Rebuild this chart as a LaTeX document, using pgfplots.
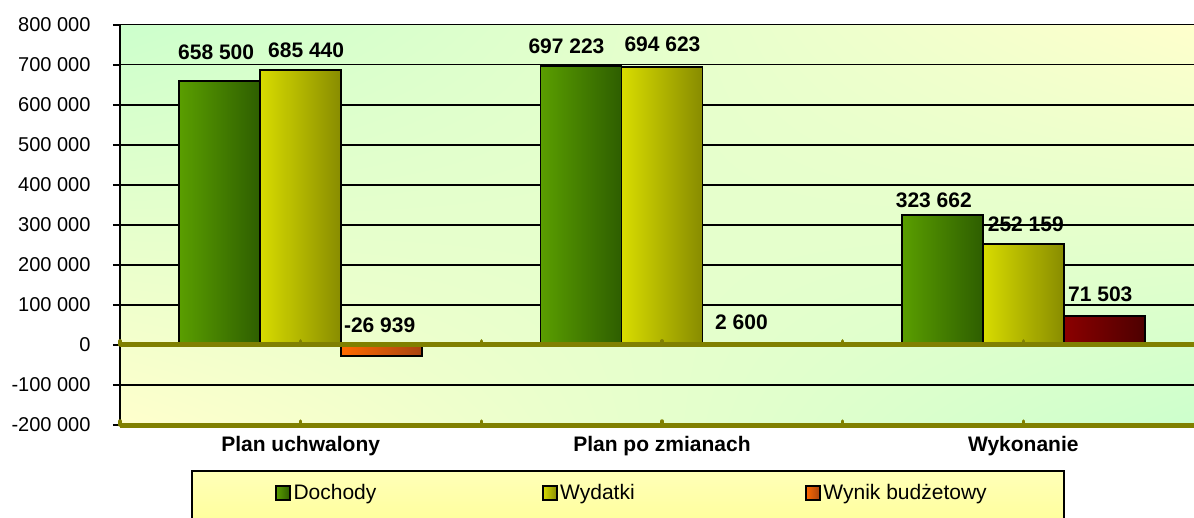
\documentclass[border=0pt]{standalone}
\usepackage{fontspec}
\setmainfont{Liberation Sans}
\usepackage{pgfplots}
\pgfplotsset{compat=1.18}
\usepackage{pgfplotstable}
\usetikzlibrary{shadings}

\definecolor{olv}{RGB}{128,128,0}
\definecolor{dL}{HTML}{5A9E00}
\definecolor{dM}{HTML}{6CB000}
\definecolor{dR}{HTML}{2E5E00}
\definecolor{wL}{HTML}{D8DC00}
\definecolor{wM}{HTML}{E8EC10}
\definecolor{wR}{HTML}{888C00}
\definecolor{nL}{HTML}{FF6A00}
\definecolor{nR}{HTML}{A84410}
\definecolor{pL}{HTML}{8B0000}
\definecolor{pR}{HTML}{4D0000}
\definecolor{bgG}{HTML}{CCFFCC}
\definecolor{bgY}{HTML}{FFFFCC}
\definecolor{lgY}{HTML}{FFFF99}
\definecolor{lgT}{HTML}{FFFFB8}

\tikzset{
  doch/.style={draw=black, line width=1.8pt, left color=dL, middle color=dM, right color=dR},
  wyd/.style={draw=black, line width=1.8pt, left color=wL, middle color=wM, right color=wR},
  wneg/.style={draw=black, line width=1.8pt, left color=nL, right color=nR},
  wpos/.style={draw=black, line width=1.8pt, left color=pL, right color=pR},
}

\pgfplotstableread{
x y dx dy
0 658500 -84.5 29
1 697223 -95.5 19.5
2 323662 -89.5 15
}\tabDochody
\pgfplotstableread{
x y dx dy
0 685440 5.5 20
1 694623 0.5 22
2 252159 2.5 19.5
}\tabWydatki
\pgfplotstableread{
x y dx dy
0 -26939 79 30
1 2600 79.5 21.5
2 71503 77 22
}\tabWynik

% one bar of a series: #1 style, #2 bar shift, #3 table, #4 x range
\newcommand{\onebar}[4]{%
  \addplot[ybar, bar width=81pt, bar shift=#2, #1, forget plot, restrict x to domain=#4]
    table[x=x, y=y] {#3};}

\begin{document}
\begin{tikzpicture}
\useasboundingbox (-120pt,-92pt) rectangle (1074pt,425pt);
% legend box
\shade[top color=lgT, middle color=white, bottom color=lgY] (72pt,-46pt) rectangle (944pt,-104pt);
\draw[black, line width=2pt] (72pt,-46pt) rectangle (944pt,-104pt);
\begin{axis}[
  scale only axis, width=1084pt, height=400.5pt,
  xmin=-0.5, xmax=2.5, ymin=-200000, ymax=800000,
  clip=false,
  axis background/.style={shade, upper left=bgG, upper right=bgY, lower left=bgY, lower right=bgG},
  xtick={0,1,2},
  xticklabels={Plan uchwalony, Plan po zmianach, Wykonanie},
  ytick={-200000,-100000,0,100000,200000,300000,400000,500000,600000,700000,800000},
  scaled y ticks=false,
  yticklabel={\pgfmathprintnumber[fixed,precision=0,1000 sep={\ },assume math mode=true]{\tick}},
  ymajorgrids, grid style={black, line width=1.8pt},
  axis x line*=bottom, axis y line*=left,
  x axis line style={draw=none},
  y axis line style={black, line width=2pt},
  xtick style={draw=none},
  ytick style={black, line width=2pt},
  tick align=outside, major tick length=7pt,
  yticklabel style={font=\fontsize{20}{24}\selectfont, xshift=-19pt},
  xticklabel style={font=\bfseries\fontsize{21}{25}\selectfont, yshift=-1pt},
  legend columns=3,
  legend style={at={(0.143,-0.1698)}, anchor=west, draw=none, fill=none, inner sep=0pt,
    font=\fontsize{21}{25}\selectfont,
    nodes={inner sep=2.5pt},
    /tikz/column 2/.style={column sep=163pt},
    /tikz/column 4/.style={column sep=168pt}},
  nodes near coords={\pgfmathprintnumber[fixed,precision=0,1000 sep={\ },assume math mode=true]{\pgfplotspointmeta}},
  point meta=y,
  visualization depends on={\thisrow{dx}\as\labdx},
  visualization depends on={\thisrow{dy}\as\labdy},
  every node near coord/.append style={font=\bfseries\fontsize{21}{25}\selectfont, black, anchor=center, xshift=\labdx pt, yshift=\labdy pt},
]
\onebar{doch}{-81pt}{\tabDochody}{-0.1:0.1}
\onebar{doch}{-81pt}{\tabDochody}{0.9:1.1}
\onebar{doch}{-81pt}{\tabDochody}{1.9:2.1}
\onebar{wyd}{0pt}{\tabWydatki}{-0.1:0.1}
\onebar{wyd}{0pt}{\tabWydatki}{0.9:1.1}
\onebar{wyd}{0pt}{\tabWydatki}{1.9:2.1}
\onebar{wneg}{81pt}{\tabWynik}{-0.1:0.1}
\onebar{wpos}{81pt}{\tabWynik}{0.9:1.1}
\onebar{wpos}{81pt}{\tabWynik}{1.9:2.1}
\addlegendimage{legend image code/.code={\draw[doch] (0pt,-7pt) rectangle (14pt,7pt);}}
\addlegendentry{Dochody}
\addlegendimage{legend image code/.code={\draw[wyd] (0pt,-7pt) rectangle (14pt,7pt);}}
\addlegendentry{Wydatki}
\addlegendimage{legend image code/.code={\draw[wneg] (0pt,-7pt) rectangle (14pt,7pt);}}
\addlegendentry{Wynik budżetowy}
% olive baseline and bottom line
\draw[olv, line width=5pt] (axis cs:-0.5,0) -- (axis cs:2.5,0);
\draw[olv, line width=5pt] (axis cs:-0.5,-200000) -- (axis cs:2.5,-200000);
\pgfplotsinvokeforeach{-0.5,0,0.5,1,1.5,2,2.5}{
  \draw[olv, line width=3.5pt, line cap=round] (axis cs:#1,0) -- ([yshift=4pt]axis cs:#1,0);
  \draw[olv, line width=3.5pt, line cap=round] (axis cs:#1,-200000) -- ([yshift=4pt]axis cs:#1,-200000);
}
\end{axis}
\end{tikzpicture}
\end{document}
